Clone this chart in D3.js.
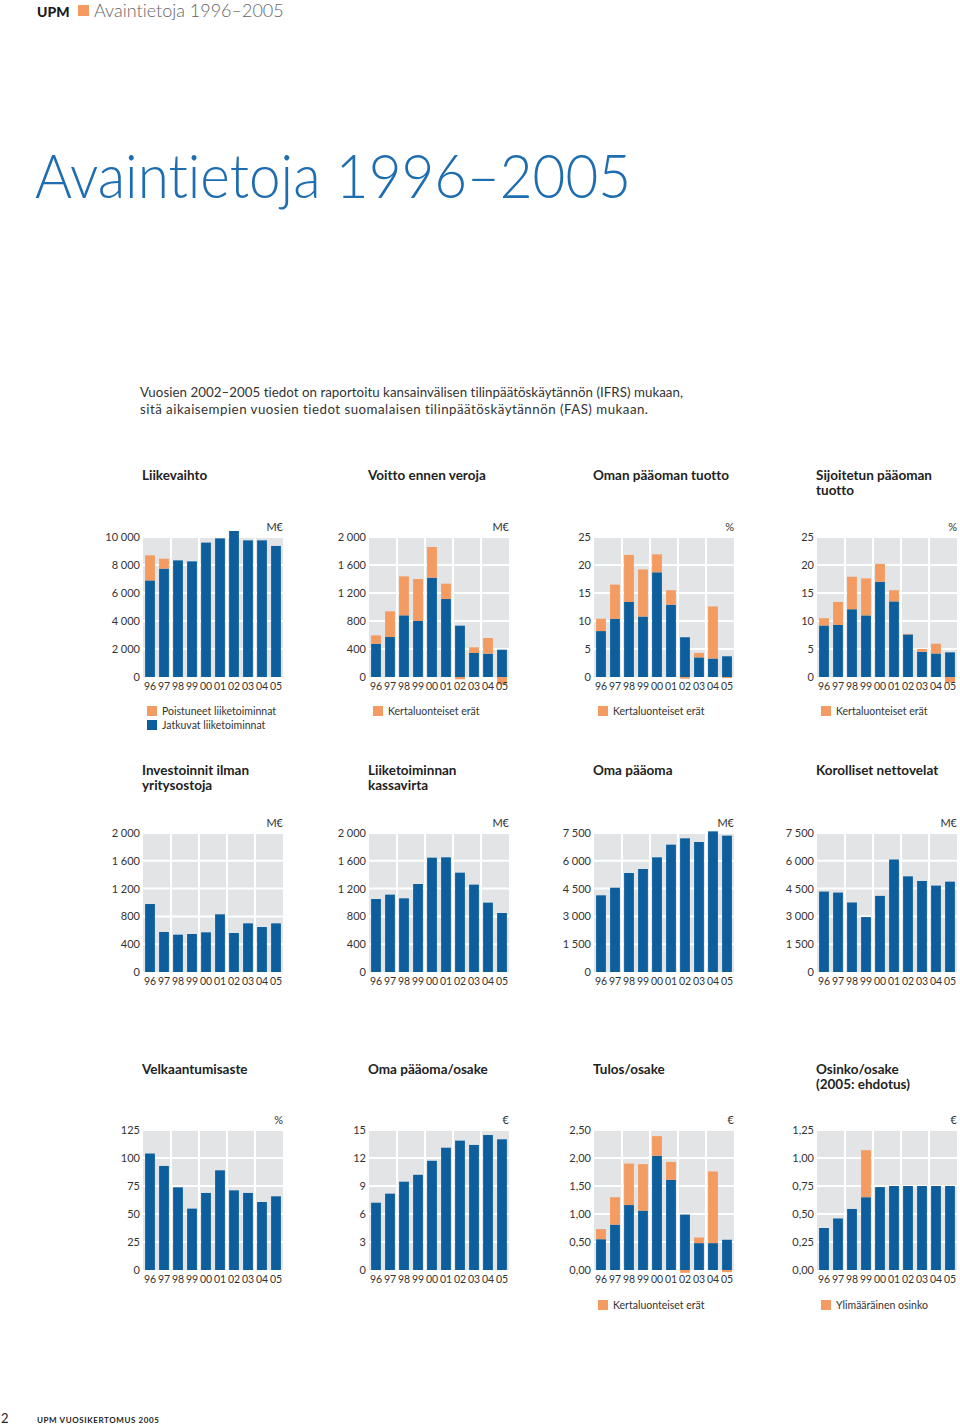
<!DOCTYPE html>
<html><head><meta charset="utf-8">
<script src="https://cdn.jsdelivr.net/npm/d3@7"></script>
<style>
html,body{margin:0;padding:0;background:#fff;}
svg{display:block;font-family:Lato,"Open Sans",sans-serif;font-variant-ligatures:none;font-feature-settings:"liga" 0,"clig" 0;}
svg text{font-variant-ligatures:none;font-feature-settings:"liga" 0,"clig" 0;}
</style></head>
<body>
<svg id="c" width="960" height="1425"></svg>
<script>
const years = ["96","97","98","99","00","01","02","03","04","05"];

// Row 1
const liikevaihtoJatkuvat = [6900,7740,8330,8260,9600,9900,10430,9760,9760,9360];
const liikevaihtoPoistuneet = [1790,710,0,0,0,0,0,0,0,0];
const liikevaihtoTicks = [0,2000,4000,6000,8000,10000];

const voittoIlman = [476,571,881,800,1419,1114,733,343,333,390];
const voittoKertaluont = [119,367,557,600,438,219,-33,81,224,-105];
const voittoTicks = [0,400,800,1200,1600,2000];

const omanTuotto = [8.2,10.4,13.4,10.8,18.7,12.9,7.1,3.5,3.3,3.7];
const omanTuottoKerta = [2.2,6.1,8.4,8.4,3.2,2.6,-0.3,0.8,9.3,-0.2];
const tuottoTicks = [0,5,10,15,20,25];

const sijoitetunTuotto = [9.2,9.3,12.1,11.0,17.0,13.5,7.6,4.5,4.2,4.4];
const sijoitetunTuottoKerta = [1.3,4.1,5.8,6.6,3.2,2.0,0.1,0.5,1.75,-1.0];

// Row 2
const investoinnit = [978,576,537,547,571,830,561,700,647,700];
const kassavirta = [1050,1113,1060,1266,1645,1650,1429,1257,998,849];
const meTicks2000 = [0,400,800,1200,1600,2000];
const omaPaaoma = [4137,4550,5342,5558,6187,6871,7212,7014,7590,7356];
const nettovelat = [4339,4286,3750,2964,4107,6071,5161,4911,4661,4875];
const meTicks7500 = [0,1500,3000,4500,6000,7500];

// Row 3
const velkaantumisaste = [104,92.9,73.8,54.8,68.8,89,71.1,68.8,60.7,65.8];
const velkaTicks = [0,25,50,75,100,125];
const omaPaaomaOsake = [7.21,8.18,9.46,10.2,11.7,13.1,13.86,13.4,14.46,14.0];
const osakeTicks = [0,3,6,9,12,15];
const tulosOsake = [0.55,0.81,1.16,1.06,2.04,1.61,0.99,0.48,0.48,0.54];
const tulosOsakeKerta = [0.18,0.49,0.74,0.83,0.35,0.32,-0.05,0.10,1.28,-0.04];
const tulosTicks = [0,0.5,1,1.5,2,2.5];
const osinko = [0.375,0.46,0.545,0.65,0.74,0.75,0.75,0.75,0.75,0.75];
const osinkoYlim = [0,0,0,0.42,0,0,0,0,0,0];
const osinkoTicks = [0,0.25,0.5,0.75,1,1.25];

const BLUE = "#0c5f9c", ORANGE = "#f39b61", GRAY = "#e3e4e6", TXT = "#333";

const svg = d3.select("#c");

// header
svg.append("text").attr("x",37).attr("y",17).attr("font-weight",900).attr("font-size",14).attr("fill","#1a1a1a").text("UPM");
svg.append("rect").attr("x",78).attr("y",5).attr("width",11).attr("height",11).attr("fill",ORANGE);
svg.append("text").attr("x",94).attr("y",17).attr("font-size",18).attr("font-weight",300).attr("fill","#666").text("Avaintietoja 1996–2005");

svg.append("text").attr("x",35).attr("y",198).attr("font-size",62).attr("font-weight",300).attr("fill","#1e6db0")
  .attr("textLength",596).attr("lengthAdjust","spacingAndGlyphs").text("Avaintietoja 1996–2005");

svg.append("text").attr("x",140).attr("y",397).attr("font-size",13.3).attr("fill",TXT)
  .attr("textLength",543).attr("lengthAdjust","spacing")
  .text("Vuosien 2002–2005 tiedot on raportoitu kansainvälisen tilinpäätöskäytännön (IFRS) mukaan,");
svg.append("text").attr("x",140).attr("y",414).attr("font-size",13.3).attr("fill",TXT)
  .attr("textLength",508).attr("lengthAdjust","spacing")
  .text("sitä  aikaisempien vuosien tiedot suomalaisen tilinpäätöskäytännön (FAS) mukaan.");

// footer
svg.append("text").attr("x",1).attr("y",1423).attr("font-size",13).attr("fill","#222").text("2");
svg.append("text").attr("x",37).attr("y",1423).attr("font-size",8).attr("font-weight",700).attr("letter-spacing",0.6).attr("fill","#222").text("UPM VUOSIKERTOMUS 2005");

function fmt(v, dec){
  if (dec) return d3.format(".2f")(v).replace(".",",");
  return d3.format(",")(v).replace(/,/g," ");
}

const colX = [143,369,594,817];
const PW = 140;

function chart(o){
  const x0 = colX[o.col];
  const g = svg.append("g");
  const y = d3.scaleLinear().domain([0, o.ticks[o.ticks.length-1]]).range([o.zero, o.top]);
  const x = d3.scaleBand().domain(years).range([x0, x0+PW]).paddingInner(0.3).paddingOuter(0.15);
  // title
  o.title.forEach((t,i)=>{
    g.append("text").attr("x",x0-1).attr("y",o.titleY + i*15).attr("font-size",13.5).attr("font-weight",700).attr("fill","#222").text(t);
  });
  // background
  g.append("rect").attr("x",x0).attr("y",o.top).attr("width",PW).attr("height",o.zero-o.top).attr("fill",GRAY);
  // horizontal white lines
  g.selectAll(".h").data(o.ticks.slice(1)).enter().append("line")
    .attr("x1",x0).attr("x2",x0+PW).attr("y1",d=>y(d)).attr("y2",d=>y(d)).attr("stroke","#fff").attr("stroke-width",2);
  // vertical white lines between pairs
  const pairs = ["98","00","02","04"];
  g.selectAll(".v").data(pairs).enter().append("line")
    .attr("x1",d=>x(d)-x.step()*x.paddingInner()/2).attr("x2",d=>x(d)-x.step()*x.paddingInner()/2)
    .attr("y1",o.top).attr("y2",o.zero).attr("stroke","#fff").attr("stroke-width",2);
  // axis labels
  const ax = d3.axisLeft(y).tickValues(o.ticks).tickSize(0).tickPadding(0).tickFormat(d=>fmt(d,o.dec));
  const axg = g.append("g").attr("transform",`translate(${x0-3},0)`).call(ax);
  axg.select(".domain").remove();
  axg.selectAll("text").attr("font-size",11).attr("fill",TXT).attr("font-family","Lato,sans-serif");
  // unit
  g.append("text").attr("x",x0+PW).attr("y",o.top-6).attr("text-anchor","end").attr("font-size",11).attr("fill",TXT).text(o.unit);
  // bars
  const base = o.base;
  g.selectAll(".b").data(years).enter().append("rect")
    .attr("x",d=>x(d)).attr("width",x.bandwidth())
    .attr("y",(d,i)=>y(Math.max(0,base[i]))).attr("height",(d,i)=>Math.abs(y(0)-y(base[i])))
    .attr("fill",BLUE);
  if (o.extra){
    const ex = o.extra;
    g.selectAll(".e").data(years).enter().append("rect")
      .attr("x",d=>x(d)).attr("width",x.bandwidth())
      .attr("y",(d,i)=> ex[i]>=0 ? y(base[i]+ex[i]) : y(0))
      .attr("height",(d,i)=> ex[i]>=0 ? y(base[i])-y(base[i]+ex[i]) : y(ex[i])-y(0))
      .attr("fill",ORANGE);
  }
  // x axis labels
  const xa = d3.axisBottom(x).tickSize(0).tickPadding(0);
  const xg = g.append("g").attr("transform",`translate(0,${o.zero+6})`).call(xa);
  xg.select(".domain").remove();
  xg.selectAll("text").attr("font-size",10.5).attr("fill",TXT).attr("dy","0.71em").attr("font-family","Lato,sans-serif");
  // legend
  if (o.legend){
    o.legend.forEach((l,i)=>{
      const ly = o.legendY + i*14;
      g.append("rect").attr("x",x0+4).attr("y",ly-9).attr("width",10).attr("height",10).attr("fill",l.c);
      g.append("text").attr("x",x0+19).attr("y",ly).attr("font-size",10.5).attr("fill",TXT).text(l.t);
    });
  }
}

const R1 = {top:537, zero:677, titleY:480, legendY:715};
const R2 = {top:833, zero:972, titleY:775};
const R3 = {top:1130, zero:1270, titleY:1074, legendY:1309};

chart({...R1,col:0,title:["Liikevaihto"],unit:"M€",ticks:liikevaihtoTicks,base:liikevaihtoJatkuvat,extra:liikevaihtoPoistuneet,
  legend:[{c:ORANGE,t:"Poistuneet liiketoiminnat"},{c:BLUE,t:"Jatkuvat liiketoiminnat"}]});
chart({...R1,col:1,title:["Voitto ennen veroja"],unit:"M€",ticks:voittoTicks,base:voittoIlman,extra:voittoKertaluont,
  legend:[{c:ORANGE,t:"Kertaluonteiset erät"}]});
chart({...R1,col:2,title:["Oman pääoman tuotto"],unit:"%",ticks:tuottoTicks,base:omanTuotto,extra:omanTuottoKerta,
  legend:[{c:ORANGE,t:"Kertaluonteiset erät"}]});
chart({...R1,col:3,title:["Sijoitetun pääoman","tuotto"],unit:"%",ticks:tuottoTicks,base:sijoitetunTuotto,extra:sijoitetunTuottoKerta,
  legend:[{c:ORANGE,t:"Kertaluonteiset erät"}]});

chart({...R2,col:0,title:["Investoinnit ilman","yritysostoja"],unit:"M€",ticks:meTicks2000,base:investoinnit});
chart({...R2,col:1,title:["Liiketoiminnan","kassavirta"],unit:"M€",ticks:meTicks2000,base:kassavirta});
chart({...R2,col:2,title:["Oma pääoma"],unit:"M€",ticks:meTicks7500,base:omaPaaoma});
chart({...R2,col:3,title:["Korolliset nettovelat"],unit:"M€",ticks:meTicks7500,base:nettovelat});

chart({...R3,col:0,title:["Velkaantumisaste"],unit:"%",ticks:velkaTicks,base:velkaantumisaste});
chart({...R3,col:1,title:["Oma pääoma/osake"],unit:"€",ticks:osakeTicks,base:omaPaaomaOsake});
chart({...R3,col:2,title:["Tulos/osake"],unit:"€",ticks:tulosTicks,dec:true,base:tulosOsake,extra:tulosOsakeKerta,
  legend:[{c:ORANGE,t:"Kertaluonteiset erät"}]});
chart({...R3,col:3,title:["Osinko/osake","(2005: ehdotus)"],unit:"€",ticks:osinkoTicks,dec:true,base:osinko,extra:osinkoYlim,
  legend:[{c:ORANGE,t:"Ylimääräinen osinko"}]});
</script>
</body></html>
